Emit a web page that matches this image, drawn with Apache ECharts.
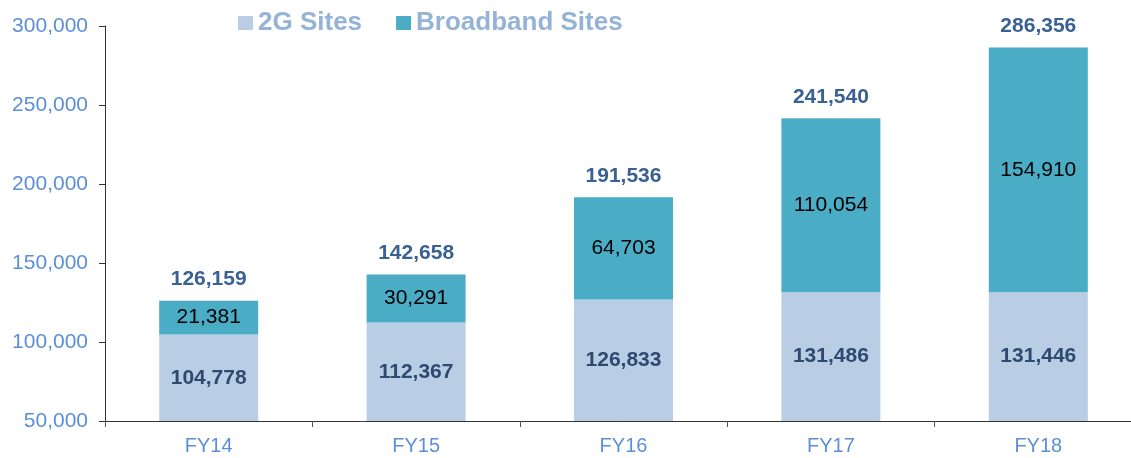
<!DOCTYPE html>
<html>
<head>
<meta charset="utf-8">
<script src="https://cdn.jsdelivr.net/npm/echarts@6/dist/echarts.min.js"></script>
<style>
  html, body { margin: 0; padding: 0; background: #fff; }
  #chart { width: 1131px; height: 458px; }
</style>
</head>
<body>
<div id="chart"></div>
<script>
const categories = ["FY14", "FY15", "FY16", "FY17", "FY18"];
const sites2g = [104778, 112367, 126833, 131486, 131446];
const broadband = [21381, 30291, 64703, 110054, 154910];
const totals = [126159, 142658, 191536, 241540, 286356];

const fmt = v => v.toLocaleString("en-US");
const font = "Liberation Sans, Arial, sans-serif";

const chart = echarts.init(document.getElementById("chart"));
chart.setOption({
  backgroundColor: "#fff",
  animation: false,
  legend: {
    top: 5,
    left: 233,
    itemWidth: 15,
    itemHeight: 14,
    itemGap: 34,
    icon: "rect",
    data: ["2G Sites", "Broadband Sites"],
    textStyle: {
      color: "#95B3D7",
      fontFamily: font,
      fontSize: 26,
      fontWeight: "bold",
    },
  },
  grid: {
    left: 105,
    top: 26,
    width: 1037,
    height: 395,
    containLabel: false,
    outerBoundsMode: "none",
  },
  xAxis: {
    type: "category",
    data: categories,
    axisLine: { lineStyle: { color: "#333", width: 1 } },
    axisTick: { show: true, length: 6, lineStyle: { color: "#555" } },
    axisLabel: {
      color: "#5B8FD6",
      fontFamily: font,
      fontSize: 20,
      margin: 15,
    },
  },
  yAxis: {
    type: "value",
    min: 50000,
    max: 300000,
    interval: 50000,
    splitLine: { show: false },
    axisLine: { show: true, lineStyle: { color: "#333", width: 1 } },
    axisTick: { show: true, length: 6, lineStyle: { color: "#333" } },
    axisLabel: {
      color: "#5B8FD6",
      fontFamily: font,
      fontSize: 21,
      margin: 17,
      formatter: v => fmt(v),
    },
  },
  series: [
    {
      name: "Total",
      type: "bar",
      data: totals,
      barWidth: 99,
      barGap: "-100%",
      itemStyle: { color: "rgba(0,0,0,0)" },
      z: 1,
      label: {
        show: true,
        position: "top",
        distance: 11,
        color: "#3A6193",
        fontFamily: font,
        fontSize: 21,
        fontWeight: "bold",
        formatter: p => fmt(p.value),
      },
      silent: true,
    },
    {
      name: "2G Sites",
      type: "bar",
      stack: "sites",
      data: sites2g,
      barWidth: 99,
      color: "#B9CDE5",
      z: 2,
      label: {
        show: true,
        position: "inside",
        color: "#2E4A6E",
        fontFamily: font,
        fontSize: 21,
        fontWeight: "bold",
        formatter: p => fmt(p.value),
      },
    },
    {
      name: "Broadband Sites",
      type: "bar",
      stack: "sites",
      data: broadband,
      barWidth: 99,
      color: "#4BACC6",
      z: 2,
      label: {
        show: true,
        position: "inside",
        color: "#000",
        fontFamily: font,
        fontSize: 21,
        formatter: p => fmt(p.value),
      },
    },
  ],
});
</script>
</body>
</html>
